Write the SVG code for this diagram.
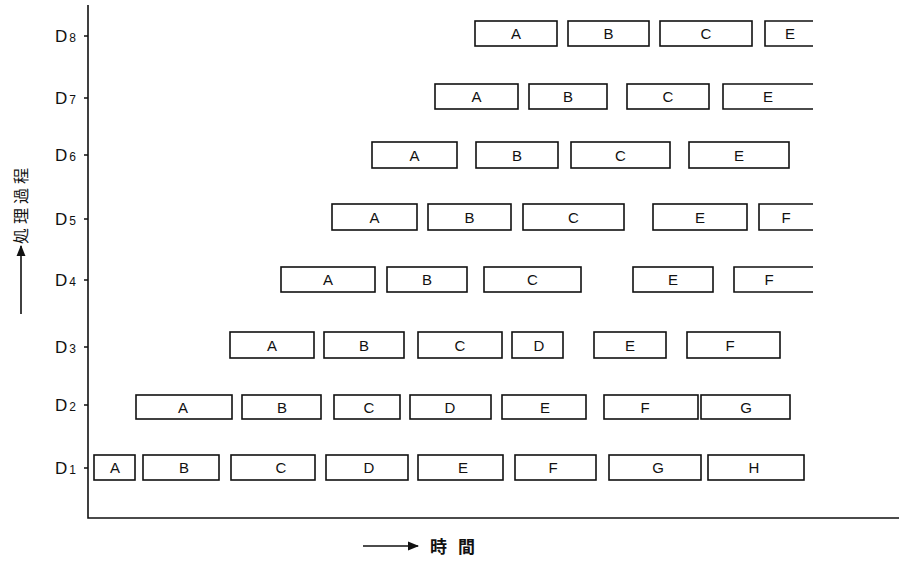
<svg xmlns="http://www.w3.org/2000/svg" width="899" height="561" viewBox="0 0 899 561">
<style>
.b{fill:none;stroke:#111;stroke-width:1.6}
.t{font-family:"Liberation Sans",Arial,sans-serif;font-size:15px;fill:#111;text-anchor:middle}
.ax{stroke:#111;stroke-width:1.6;fill:none}
.lb{font-family:"Liberation Sans",Arial,sans-serif;fill:#111;font-size:17px}
.sub{font-size:12px}
.cj{font-family:"Noto Sans CJK JP","Noto Sans CJK SC",sans-serif;fill:#111}
</style>
<defs>
<marker id="ah" viewBox="0 0 10 10" refX="9" refY="5" markerWidth="7" markerHeight="7" orient="auto">
<path d="M0,1 L10,5 L0,9 Z" fill="#111"/>
</marker>
</defs>
<rect width="899" height="561" fill="#fff"/>
<g id="axes">
<path class="ax" d="M88,5 V518 H899"/>
<path class="ax" d="M84,36 H88 M84,98 H88 M84,155 H88 M84,219 H88 M84,280 H88 M84,347 H88 M84,405 H88 M84,468 H88"/>
</g>
<g id="row-labels">
<text class="lb" x="55" y="42">D<tspan class="sub" dx="2">8</tspan></text>
<text class="lb" x="55" y="104">D<tspan class="sub" dx="2">7</tspan></text>
<text class="lb" x="55" y="161">D<tspan class="sub" dx="2">6</tspan></text>
<text class="lb" x="55" y="225">D<tspan class="sub" dx="2">5</tspan></text>
<text class="lb" x="55" y="286">D<tspan class="sub" dx="2">4</tspan></text>
<text class="lb" x="55" y="353">D<tspan class="sub" dx="2">3</tspan></text>
<text class="lb" x="55" y="411">D<tspan class="sub" dx="2">2</tspan></text>
<text class="lb" x="55" y="474">D<tspan class="sub" dx="2">1</tspan></text>
</g>
<g id="axis-titles">
<line class="ax" x1="21" y1="314" x2="21" y2="246" marker-end="url(#ah)" stroke-width="1.2"/>
<text class="cj" font-size="16" letter-spacing="4" transform="translate(27,244) rotate(-90)">処理過程</text>
<line class="ax" x1="363" y1="546" x2="418" y2="546" marker-end="url(#ah)" stroke-width="1.2"/>
<text class="cj" font-size="17" font-weight="bold" x="430" y="553">時</text>
<text class="cj" font-size="17" font-weight="bold" x="458" y="553">間</text>
</g>
<g id="row-D8">
<rect class="b" x="475" y="21" width="82" height="25"/><text class="t" x="516" y="39">A</text>
<rect class="b" x="568" y="21" width="81" height="25"/><text class="t" x="608.5" y="39">B</text>
<rect class="b" x="660" y="21" width="92" height="25"/><text class="t" x="706" y="39">C</text>
<path class="b" d="M813,21 H765 V46 H813"/><text class="t" x="790" y="39">E</text>
</g>
<g id="row-D7">
<rect class="b" x="435" y="84" width="83" height="25"/><text class="t" x="476.5" y="102">A</text>
<rect class="b" x="529" y="84" width="78" height="25"/><text class="t" x="568" y="102">B</text>
<rect class="b" x="627" y="84" width="82" height="25"/><text class="t" x="668" y="102">C</text>
<path class="b" d="M813,84 H723 V109 H813"/><text class="t" x="768" y="102">E</text>
</g>
<g id="row-D6">
<rect class="b" x="372" y="142" width="85" height="26"/><text class="t" x="414.5" y="160.5">A</text>
<rect class="b" x="476" y="142" width="82" height="26"/><text class="t" x="517" y="160.5">B</text>
<rect class="b" x="571" y="142" width="99" height="26"/><text class="t" x="620.5" y="160.5">C</text>
<rect class="b" x="689" y="142" width="100" height="26"/><text class="t" x="739" y="160.5">E</text>
</g>
<g id="row-D5">
<rect class="b" x="332" y="204" width="85" height="26"/><text class="t" x="374.5" y="222.5">A</text>
<rect class="b" x="428" y="204" width="83" height="26"/><text class="t" x="469.5" y="222.5">B</text>
<rect class="b" x="523" y="204" width="101" height="26"/><text class="t" x="573.5" y="222.5">C</text>
<rect class="b" x="653" y="204" width="94" height="26"/><text class="t" x="700" y="222.5">E</text>
<path class="b" d="M813,204 H759 V230 H813"/><text class="t" x="786" y="222.5">F</text>
</g>
<g id="row-D4">
<rect class="b" x="281" y="267" width="94" height="25"/><text class="t" x="328" y="285">A</text>
<rect class="b" x="387" y="267" width="80" height="25"/><text class="t" x="427" y="285">B</text>
<rect class="b" x="484" y="267" width="97" height="25"/><text class="t" x="532.5" y="285">C</text>
<rect class="b" x="633" y="267" width="80" height="25"/><text class="t" x="673" y="285">E</text>
<path class="b" d="M813,267 H734 V292 H813"/><text class="t" x="769" y="285">F</text>
</g>
<g id="row-D3">
<rect class="b" x="230" y="332" width="84" height="26"/><text class="t" x="272" y="350.5">A</text>
<rect class="b" x="324" y="332" width="80" height="26"/><text class="t" x="364" y="350.5">B</text>
<rect class="b" x="418" y="332" width="84" height="26"/><text class="t" x="460" y="350.5">C</text>
<rect class="b" x="512" y="332" width="51" height="26"/><text class="t" x="539" y="350.5">D</text>
<rect class="b" x="594" y="332" width="72" height="26"/><text class="t" x="630" y="350.5">E</text>
<rect class="b" x="687" y="332" width="93" height="26"/><text class="t" x="730" y="350.5">F</text>
</g>
<g id="row-D2">
<rect class="b" x="136" y="395" width="96" height="24"/><text class="t" x="183" y="412.5">A</text>
<rect class="b" x="242" y="395" width="79" height="24"/><text class="t" x="282" y="412.5">B</text>
<rect class="b" x="334" y="395" width="66" height="24"/><text class="t" x="369" y="412.5">C</text>
<rect class="b" x="410" y="395" width="81" height="24"/><text class="t" x="450" y="412.5">D</text>
<rect class="b" x="502" y="395" width="84" height="24"/><text class="t" x="545" y="412.5">E</text>
<rect class="b" x="604" y="395" width="94" height="24"/><text class="t" x="645" y="412.5">F</text>
<rect class="b" x="701" y="395" width="89" height="24"/><text class="t" x="746" y="412.5">G</text>
</g>
<g id="row-D1">
<rect class="b" x="94" y="455" width="41" height="25"/><text class="t" x="115" y="473">A</text>
<rect class="b" x="143" y="455" width="76" height="25"/><text class="t" x="184" y="473">B</text>
<rect class="b" x="231" y="455" width="84" height="25"/><text class="t" x="281" y="473">C</text>
<rect class="b" x="326" y="455" width="82" height="25"/><text class="t" x="369" y="473">D</text>
<rect class="b" x="418" y="455" width="85" height="25"/><text class="t" x="463" y="473">E</text>
<rect class="b" x="515" y="455" width="81" height="25"/><text class="t" x="553" y="473">F</text>
<rect class="b" x="609" y="455" width="92" height="25"/><text class="t" x="658" y="473">G</text>
<rect class="b" x="708" y="455" width="96" height="25"/><text class="t" x="754" y="473">H</text>
</g>
</svg>
